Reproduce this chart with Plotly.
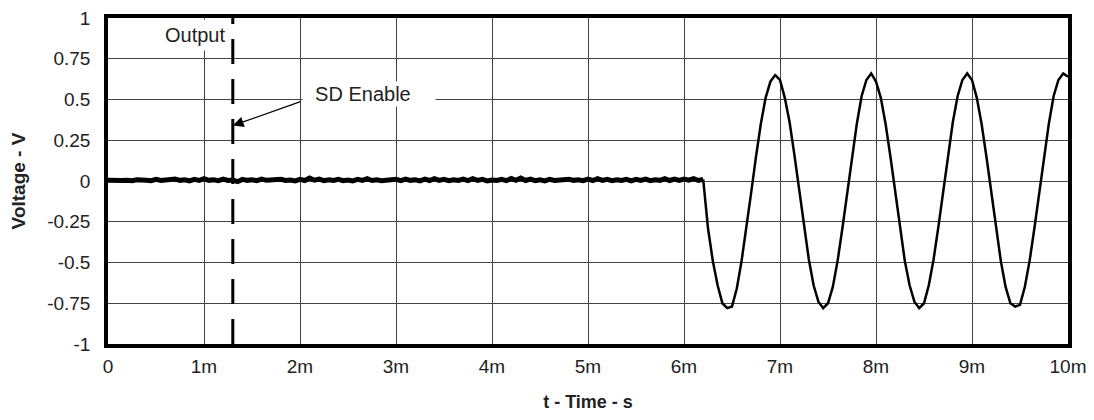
import plotly.graph_objects as go

# ---------------- data ----------------
x_tickvals = [0, 0.001, 0.002, 0.003, 0.004, 0.005, 0.006, 0.007, 0.008, 0.009, 0.010]
x_ticktext = ["0", "1m", "2m", "3m", "4m", "5m", "6m", "7m", "8m", "9m", "10m"]
y_tickvals = [1, 0.75, 0.5, 0.25, 0, -0.25, -0.5, -0.75, -1]
y_ticktext = ["1", "0.75", "0.5", "0.25", "0", "-0.25", "-0.5", "-0.75", "-1"]

# output before enable (flat, noisy), sampled every 0.05 ms from t = 0
flat_t0 = 0.0
flat_dt = 0.05e-3
flat_v = [
    0.004, 0.002, 0.006, 0.003, 0.005, 0.002, 0.008, 0.003, 0.005, 0.002,
    0.010, 0.003, 0.006, 0.002, 0.012, 0.004, 0.008, 0.001, 0.010, 0.003,
    0.014, 0.004, 0.008, 0.002, 0.012, 0.003, 0.006, -0.004, 0.010, 0.004,
    0.008, 0.002, 0.012, 0.004, 0.005, 0.002, 0.010, 0.003, 0.006, 0.001,
    0.010, 0.003, 0.018, 0.005, 0.012, 0.002, 0.008, 0.003, 0.010, 0.002,
    0.006, 0.001, 0.010, 0.004, 0.014, 0.003, 0.008, 0.002, 0.006, 0.003,
    0.010, 0.002, 0.012, 0.004, 0.008, 0.001, 0.012, 0.003, 0.015, 0.004,
    0.010, 0.002, 0.008, 0.003, 0.012, 0.002, 0.014, 0.004, 0.010, 0.001,
    0.006, 0.003, 0.010, 0.002, 0.015, 0.004, 0.018, 0.003, 0.012, 0.002,
    0.008, 0.001, 0.010, 0.003, 0.006, 0.002, 0.010, 0.004, 0.008, 0.002,
    0.012, 0.003, 0.014, 0.004, 0.010, 0.002, 0.008, 0.003, 0.010, 0.001,
    0.010, 0.003, 0.012, 0.002, 0.008, 0.004, 0.015, 0.003, 0.012, 0.004,
    0.012, 0.005, 0.014, 0.003, 0.010,
]

# output after enable (sine), sampled every 0.05 ms from t = 6.25 ms
sine_t0 = 6.25e-3
sine_dt = 0.05e-3
sine_v = [
    -0.29, -0.49, -0.64, -0.75, -0.78,
    -0.77, -0.66, -0.49, -0.29, -0.07, 0.15, 0.35, 0.51, 0.61, 0.65,
    0.62, 0.51, 0.36, 0.16, -0.06, -0.28, -0.48, -0.64, -0.74, -0.78,
    -0.75, -0.65, -0.49, -0.29, -0.07, 0.16, 0.35, 0.52, 0.62, 0.66,
    0.61, 0.51, 0.35, 0.15, -0.07, -0.29, -0.49, -0.64, -0.74, -0.78,
    -0.75, -0.64, -0.48, -0.28, -0.06, 0.16, 0.36, 0.52, 0.62, 0.66,
    0.62, 0.51, 0.35, 0.15, -0.07, -0.29, -0.49, -0.65, -0.75, -0.77,
    -0.76, -0.65, -0.49, -0.29, -0.07, 0.15, 0.35, 0.52, 0.62, 0.66,
    0.64,
]

# SD enable marker
enable_t = 1.3e-3
enable_y = [-1, 1]
arrow_tip_y = 0.34
arrow_tail = (2.02e-3, 0.49)
label_sd = (2.02e-3, 0.535)
label_out = (1.27e-3, 0.895)

# ---------------- build ----------------
t_flat = [flat_t0 + i * flat_dt for i in range(len(flat_v))]
t_sine = [sine_t0 + i * sine_dt for i in range(len(sine_v))]

FONT = "Liberation Sans, Arial, sans-serif"
TXT = "#222222"

fig = go.Figure()
fig.add_trace(go.Scatter(
    x=t_flat, y=flat_v, mode="lines",
    line=dict(color="black", width=5),
    hoverinfo="skip", showlegend=False,
))
fig.add_trace(go.Scatter(
    x=[t_flat[-1]] + t_sine, y=[flat_v[-1]] + sine_v, mode="lines",
    line=dict(color="black", width=2.5),
    hoverinfo="skip", showlegend=False,
))
fig.add_trace(go.Scatter(
    x=[enable_t, enable_t], y=enable_y, mode="lines",
    line=dict(color="black", width=3, dash="25px,15px"),
    hoverinfo="skip", showlegend=False,
))

fig.add_annotation(
    x=enable_t, y=arrow_tip_y, xref="x", yref="y",
    ax=arrow_tail[0], ay=arrow_tail[1], axref="x", ayref="y",
    text=" ", font=dict(size=1), showarrow=True,
    arrowhead=2, arrowsize=1.8, arrowwidth=1.2, arrowcolor="black",
)
fig.add_annotation(
    x=label_sd[0], y=label_sd[1], xref="x", yref="y",
    xanchor="left", yanchor="middle", showarrow=False,
    text="\u00a0\u00a0SD Enable", align="left", width=130,
    bgcolor="white", borderpad=1,
    font=dict(family=FONT, size=20, color=TXT),
)
fig.add_annotation(
    x=label_out[0], y=label_out[1], xref="x", yref="y",
    xanchor="right", yanchor="middle", showarrow=False,
    text="Output", bgcolor="white", borderpad=4,
    font=dict(family=FONT, size=20, color=TXT),
)

# the page body adds an 8 px offset, so the figure is sized to fit inside it
fig.update_layout(
    width=1082, height=404, autosize=False,
    margin=dict(l=100, r=22, t=10, b=68),
    paper_bgcolor="white", plot_bgcolor="white",
    font=dict(family=FONT, size=19, color=TXT),
    showlegend=False,
)
fig.update_xaxes(
    range=[0, 0.010], tickvals=x_tickvals, ticktext=x_ticktext,
    showgrid=True, gridcolor="#444444", gridwidth=1,
    showline=True, linecolor="black", linewidth=3.5, mirror=True,
    ticks="", ticklabelstandoff=2, zeroline=False, automargin=False,
    ticklabeloverflow="allow",
    tickfont=dict(family=FONT, size=19, color=TXT),
    title=dict(text="<b>t - Time - s</b>", standoff=23,
               font=dict(family=FONT, size=18, color=TXT)),
)
fig.update_yaxes(
    range=[-1, 1], tickvals=y_tickvals, ticktext=y_ticktext,
    showgrid=True, gridcolor="#444444", gridwidth=1,
    showline=True, linecolor="black", linewidth=3.5, mirror=True,
    ticks="", ticklabelstandoff=10, zeroline=False, automargin=False,
    ticklabeloverflow="allow",
    tickfont=dict(family=FONT, size=19, color=TXT),
    title=dict(text="<b>Voltage - V</b>", standoff=20,
               font=dict(family=FONT, size=19, color=TXT)),
)

fig.write_html("out.html")
